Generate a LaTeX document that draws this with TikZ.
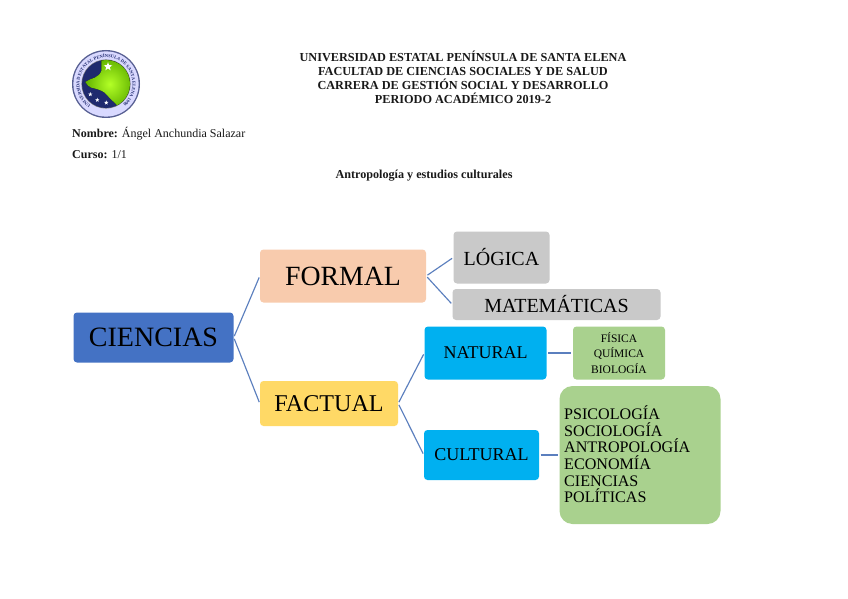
\documentclass[tikz,border=0pt]{standalone}
\usepackage{fontspec}
\setmainfont{Liberation Serif}
\usetikzlibrary{decorations.text,shapes.geometric}
\definecolor{cBlue}{HTML}{4472C4}
\definecolor{cOrange}{HTML}{F8CBAD}
\definecolor{cGold}{HTML}{FFD966}
\definecolor{cGray}{HTML}{C9C9C9}
\definecolor{cCyan}{HTML}{00B0F0}
\definecolor{cGreen}{HTML}{A9D18E}
\definecolor{cLine}{HTML}{5B7FBE}
\definecolor{cNavy}{HTML}{1F2A6E}
\tikzset{
  x=1pt,y=-1pt,
  box/.style={rounded corners=3.5pt,inner sep=0pt,align=center,text=black,anchor=center},
  link/.style={draw=cLine,line width=1.15pt,shorten >=1.5pt,shorten <=1.5pt},
  headline/.style={font=\bfseries\fontsize{12.25}{13.95}\selectfont,align=center,inner sep=0pt,text=black!90},
  plain/.style={font=\fontsize{12}{13}\selectfont,anchor=west,inner sep=0pt,text=black!90},
  logostarstyle/.style={star,star points=5,star point ratio=2.4,fill=white,inner sep=0pt},
}
\newcommand{\fs}[1]{\fontsize{#1}{#1}\selectfont}
\begin{document}
\begin{tikzpicture}
\useasboundingbox (0,0) rectangle (848,599);
\fill[white] (0,0) rectangle (848,599);
% logo
\fill[cNavy!75] (106,84) circle[radius=34];
\fill[white!85!blue] (106,84) circle[radius=32.6];
\fill[gray] (106,84) circle[radius=24.6];
\begin{scope}
\clip (106,84) circle[radius=24];
\fill[cNavy] (106,84) circle[radius=24];
\fill[inner color=yellow!65!green!85!white,outer color=green!45!yellow!70!black]
  (101.3,58) -- (101.3,71) .. controls (100,75) and (97,76) .. (94.7,77.7)
  .. controls (91,79) and (88,80) .. (85.3,82)
  .. controls (87,85) and (89,87) .. (91.3,87.7)
  .. controls (97,89) and (101,90) .. (104.7,92.7)
  .. controls (108,96) and (111,100) .. (114.7,102.7)
  -- (121,110) -- (134,110) -- (134,58) -- cycle;
\end{scope}
\node[logostarstyle,minimum size=9pt] (logostar) at (108,66.7) {};
\node[logostarstyle,minimum size=4.5pt] (dota) at (90.3,94.3) {};
\node[logostarstyle,minimum size=4.5pt] (dotb) at (97.3,100) {};
\node[logostarstyle,minimum size=4.5pt] (dotc) at (106.3,102.7) {};
\path[postaction={decorate,decoration={text along path,text align=center,
  text={|\bfseries\fontsize{4.5}{5}\selectfont\color{cNavy}|UNIVERSIDAD ESTATAL PENÍNSULA DE SANTA ELENA 1998}}}]
  (106,110.5) arc[start angle=90,delta angle=355,radius=26.5];
% header
\node[headline] (head) at (463,77.7) {UNIVERSIDAD ESTATAL PENÍNSULA DE SANTA ELENA\\FACULTAD DE CIENCIAS SOCIALES Y DE SALUD\\CARRERA DE GESTIÓN SOCIAL Y DESARROLLO\\PERIODO ACADÉMICO 2019-2};
\node[plain] (nombre) at (72,133.7) {\textbf{Nombre:} Ángel Anchundia Salazar};
\node[plain] (curso) at (72,154.7) {\textbf{Curso:} 1/1};
\node[plain,anchor=center,font=\fontsize{12.15}{13}\selectfont] (tema) at (424,176) {\textbf{Antropología y estudios culturales}};
% boxes
\node[box,fill=cBlue,minimum width=160pt,minimum height=50pt,font=\fs{28}] (ciencias) at (153.5,337.5) {CIENCIAS};
\node[box,fill=cOrange,minimum width=166pt,minimum height=53pt,font=\fs{27.8}] (formal) at (343,276) {FORMAL};
\node[box,fill=cGold,minimum width=138pt,minimum height=45pt,font=\fs{24.1}] (factual) at (329,403.5) {FACTUAL};
\node[box,fill=cGray,minimum width=96pt,minimum height=52pt,font=\fs{20}] (logica) at (501.5,257.5) {LÓGICA};
\node[box,fill=cGray,minimum width=208pt,minimum height=31pt,font=\fs{20}] (mate) at (556.5,304.5) {MATEMÁTICAS};
\node[box,fill=cCyan,minimum width=122pt,minimum height=53pt,font=\fs{18}] (natural) at (485.5,353) {NATURAL};
\node[box,fill=cCyan,minimum width=115pt,minimum height=50pt,font=\fs{18}] (cultural) at (481.5,455) {CULTURAL};
\node[box,fill=cGreen,minimum width=92pt,minimum height=53pt,font=\fontsize{11.5}{15.5}\selectfont,text=black,align=center] (fisica) at (619,353) {FÍSICA\\QUÍMICA\\BIOLOGÍA};
\node[box,fill=cGreen,rounded corners=13pt,minimum width=161pt,minimum height=138pt] (psico) at (640,455) {};
\node[anchor=west,inner sep=0pt,align=left,font=\fontsize{16.1}{16.6}\selectfont,text=black] (psicotxt) at (564,454.3) {PSICOLOGÍA\\SOCIOLOGÍA\\ANTROPOLOGÍA\\ECONOMÍA\\CIENCIAS\\POLÍTICAS};
% connectors
\draw[link] (ciencias.east) -- (formal.west);
\draw[link] (ciencias.east) -- (factual.west);
\draw[link] (formal.east) -- (logica.west);
\draw[link] (formal.east) -- (mate.west);
\draw[link] (factual.east) -- (natural.west);
\draw[link] (factual.east) -- (cultural.west);
\draw[link] (natural.east) -- (fisica.west);
\draw[link] (cultural.east) -- (psico.west);
\end{tikzpicture}
\end{document}
